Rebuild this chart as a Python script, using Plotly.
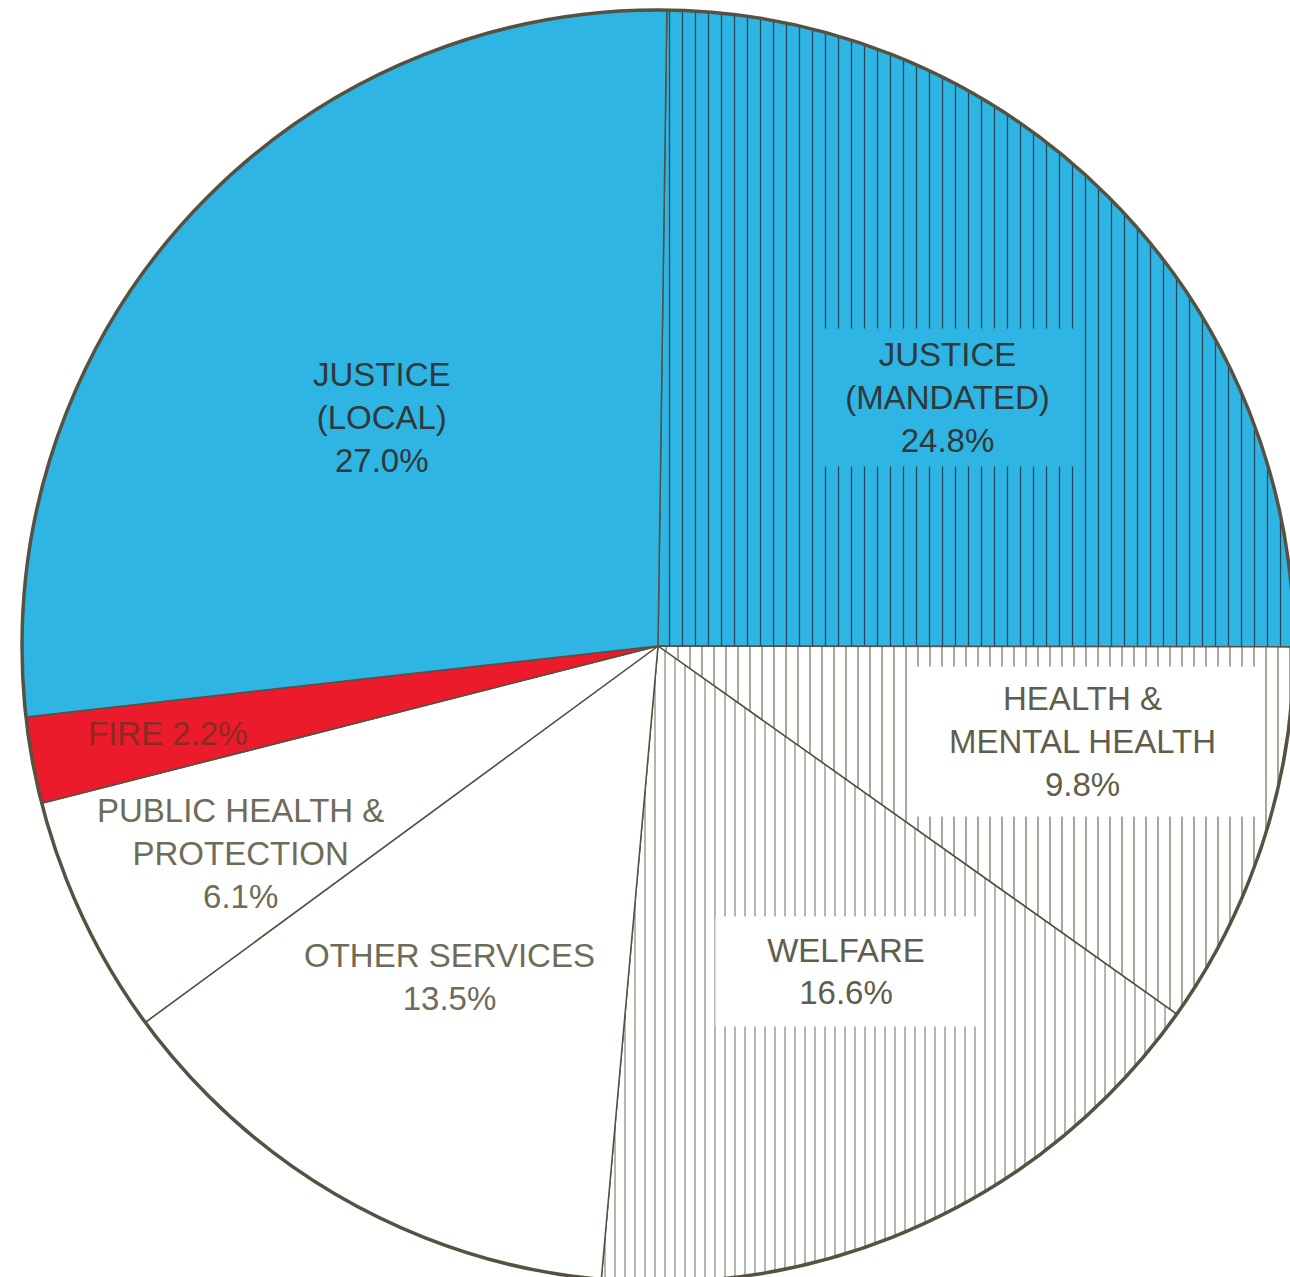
import plotly.graph_objects as go

# Budget shares by function (percent), clockwise from 12 o'clock
categories = [
    "JUSTICE (MANDATED)",
    "HEALTH & MENTAL HEALTH",
    "WELFARE",
    "OTHER SERVICES",
    "PUBLIC HEALTH & PROTECTION",
    "FIRE",
    "JUSTICE (LOCAL)",
]
shares = [24.8, 9.8, 16.6, 13.5, 6.1, 2.2, 27.0]
label_lines = [
    ["JUSTICE", "(MANDATED)"],
    ["HEALTH &", "MENTAL HEALTH"],
    ["WELFARE"],
    ["OTHER SERVICES"],
    ["PUBLIC HEALTH &", "PROTECTION"],
    ["FIRE"],
    ["JUSTICE", "(LOCAL)"],
]

# Styling
BLUE = "#2fb5e3"
RED = "#ec1b2b"
WHITE = "#ffffff"
EDGE = "#575142"
fills = [BLUE, WHITE, WHITE, WHITE, WHITE, RED, BLUE]
hatch = ["|", "|", "|", "", "", "", ""]
hatch_ink = ["#24485a", "#6d6c5c", "#6d6c5c", "#6d6c5c", "#6d6c5c", "#6d6c5c", "#6d6c5c"]
hatch_gap = [13, 12, 10, 12, 12, 12, 12]
text_ink = ["#30383a", "#5f5e4c", "#5f5e4c", "#6e6c58", "#6e6c58", "#8a2a22", "#30383a"]

# Label placement in page pixels (centre x, centre y) and optional box size
label_pos = [(947, 397), (1082, 741), (846, 971), (449, 977), (240, 853), (168, 733), (382, 418)]
label_box = [(255, 135), (345, 147), (258, 107), None, None, None, None]
label_bg = [BLUE, WHITE, WHITE, None, None, None, None]

W, H = 1316, 1292
CX, CY, R = 658, 646, 636


def paper(px, py):
    return px / W, 1 - py / H


pie_domain = dict(x=[(CX - R) / W, (CX + R) / W], y=[1 - (CY + R) / H, 1 - (CY - R) / H])

fig = go.Figure()
fig.add_trace(
    go.Pie(
        labels=categories,
        values=shares,
        sort=False,
        direction="clockwise",
        rotation=0.8,
        textinfo="none",
        hoverinfo="label+percent",
        showlegend=False,
        domain=pie_domain,
        marker=dict(
            colors=fills,
            line=dict(color=EDGE, width=1.5),
            pattern=dict(
                shape=hatch,
                fgcolor=hatch_ink,
                bgcolor=fills,
                size=hatch_gap,
                solidity=0.1,
            ),
        ),
    )
)
# Heavier rim around the whole pie
fig.add_trace(
    go.Pie(
        values=[sum(shares)],
        labels=["total"],
        sort=False,
        textinfo="none",
        hoverinfo="skip",
        showlegend=False,
        domain=pie_domain,
        marker=dict(colors=["rgba(0,0,0,0)"], line=dict(color=EDGE, width=3.5)),
    )
)

annotations = []
for i, (lines, v) in enumerate(zip(label_lines, shares)):
    pct = f"{v:.1f}%"
    if len(lines) == 1 and lines[0] == "FIRE":
        text = f"{lines[0]} {pct}"
    else:
        text = "<br>".join(lines + [pct])
    x, y = paper(*label_pos[i])
    ann = dict(
        x=x,
        y=y,
        xref="paper",
        yref="paper",
        xanchor="center",
        yanchor="middle",
        text=text,
        showarrow=False,
        align="center",
        font=dict(family="Liberation Sans, Arial, sans-serif", size=33, color=text_ink[i]),
    )
    if label_box[i] is not None:
        ann["width"] = label_box[i][0]
        ann["height"] = label_box[i][1]
        ann["bgcolor"] = label_bg[i]
        ann["valign"] = "middle"
    annotations.append(ann)

fig.update_layout(
    width=W,
    height=H,
    margin=dict(l=0, r=0, t=0, b=0),
    paper_bgcolor="white",
    plot_bgcolor="white",
    annotations=annotations,
)

fig.write_html(
    "out.html",
    config={"displayModeBar": False},
    post_script="document.documentElement.style.overflow='hidden';document.body.style.overflow='hidden';",
)
